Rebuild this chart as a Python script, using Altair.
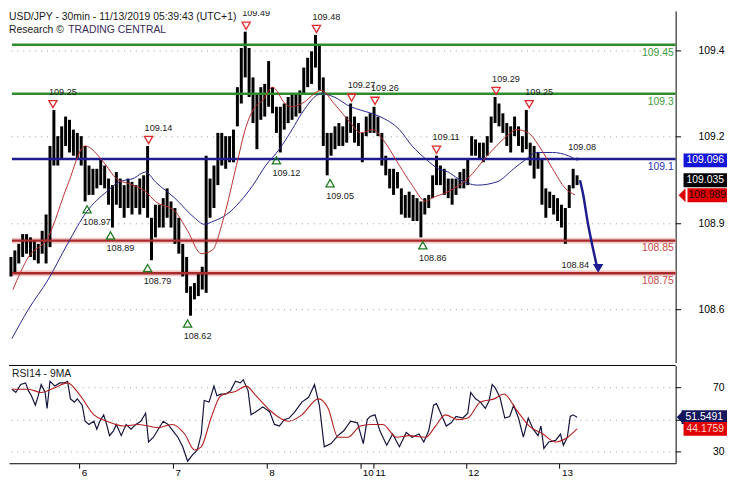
import json
import altair as alt
import pandas as pd

# ---------------- data ----------------
# hourly high / low of USD/JPY (hour index from 5 Nov 06:00, UTC+1)
bar_high = [108.80, 108.82, 108.84, 108.87, 108.87, 108.86, 108.85, 108.84, 108.88, 108.93,
            109.14, 109.25, 109.17, 109.20, 109.23, 109.22, 109.19, 109.18, 109.17, 109.14,
            109.08, 109.07, 109.07, 109.10, 109.08, 109.04, 109.02, 109.06, 109.04, 109.02,
            109.04, 109.03, 109.02, 109.04, 109.05, 109.14, 108.92, 108.96, 108.96, 108.98,
            109.01, 108.97, 108.95, 108.92, 108.84, 108.80, 108.71, 108.72, 108.75, 108.77,
            109.11, 109.04, 109.08, 109.18, 109.18, 109.17, 109.17, 109.19, 109.32, 109.44,
            109.49, 109.44, 109.35, 109.30, 109.32, 109.33, 109.40, 109.32, 109.26, 109.26,
            109.27, 109.29, 109.30, 109.30, 109.31, 109.38, 109.41, 109.43, 109.48, 109.45,
            109.35, 109.18, 109.18, 109.20, 109.21, 109.20, 109.23, 109.27, 109.23, 109.21,
            109.18, 109.23, 109.24, 109.26, 109.23, 109.18, 109.11, 109.07, 109.07, 109.06,
            109.01, 108.99, 109.00, 108.99, 108.98, 108.97, 108.98, 108.99, 109.05, 109.11,
            109.08, 109.07, 109.04, 109.04, 109.04, 109.06, 109.07, 109.10, 109.17, 109.16,
            109.15, 109.15, 109.17, 109.23, 109.29, 109.27, 109.24, 109.21, 109.20, 109.23,
            109.20, 109.17, 109.25, 109.15, 109.14, 109.12, 109.10, 109.01, 109.00, 108.99,
            108.98, 108.96, 108.95, 109.02, 109.07, 109.05]
bar_low = [108.74, 108.75, 108.78, 108.80, 108.81, 108.80, 108.79, 108.78, 108.81, 108.78,
           108.83, 109.08, 109.08, 109.10, 109.14, 109.12, 109.11, 109.10, 109.08, 108.97,
           108.99, 108.99, 109.01, 109.02, 109.01, 108.96, 108.89, 108.96, 108.95, 108.92,
           108.95, 108.93, 108.95, 108.93, 108.95, 108.92, 108.79, 108.86, 108.89, 108.89,
           108.92, 108.89, 108.84, 108.81, 108.74, 108.69, 108.62, 108.67, 108.68, 108.70,
           108.69, 108.92, 108.95, 109.02, 109.08, 109.07, 109.09, 109.09, 109.20, 109.27,
           109.35, 109.29, 109.21, 109.13, 109.22, 109.23, 109.26, 109.24, 109.18, 109.12,
           109.19, 109.21, 109.22, 109.23, 109.24, 109.30, 109.32, 109.33, 109.38, 109.31,
           109.14, 109.05, 109.11, 109.13, 109.14, 109.14, 109.15, 109.18, 109.15, 109.14,
           109.09, 109.17, 109.18, 109.18, 109.17, 109.08, 109.05, 109.01, 108.99, 109.01,
           108.93, 108.92, 108.92, 108.91, 108.91, 108.86, 108.93, 108.95, 108.98, 109.02,
           109.02, 108.99, 108.98, 108.96, 108.99, 109.01, 109.01, 109.02, 109.11, 109.11,
           109.10, 109.09, 109.11, 109.15, 109.21, 109.20, 109.18, 109.14, 109.12, 109.17,
           109.14, 109.12, 109.13, 109.08, 109.04, 109.07, 108.96, 108.92, 108.95, 108.93,
           108.91, 108.89, 108.84, 108.95, 109.01, 109.02]

red_ma_t = [1, 5, 10, 15, 19.5, 24.25, 27.5, 31.75, 35, 37.5,
            42.5, 45.75, 49.25, 52, 55, 58.25, 60.75, 62.5, 65, 67.5,
            70.75, 72.5, 75, 80, 83.25, 87.5, 90, 93.25, 95.75, 100,
            103.25, 106.75, 108.25, 112.5, 117.5, 122.5, 127.5, 130, 133, 135.75,
            139.25, 142.5, 145]
red_ma_v = [108.70, 108.80, 108.86, 109.02, 109.14, 109.09, 109.04, 109.02, 109.00, 108.97,
            108.94, 108.88, 108.81, 108.82, 108.92, 109.08, 109.20, 109.25, 109.28, 109.32,
            109.27, 109.26, 109.27, 109.31, 109.27, 109.21, 109.18, 109.19, 109.16, 109.08,
            109.02, 108.97, 108.98, 109.00, 109.04, 109.11, 109.17, 109.19, 109.18, 109.14,
            109.07, 109.01, 108.99]
blue_ma_t = [0.75, 5, 10, 15, 20, 25, 28.25, 31.75, 35, 37.5,
             42.5, 47.5, 50, 52.5, 55.75, 59.25, 62.5, 65.75, 69.25, 72.5,
             75, 80, 83.25, 87.5, 90, 95, 100, 103.25, 106.75, 110,
             112.5, 115, 120, 125, 129.25, 132.5, 135, 139.25, 143.25, 145]
blue_ma_v = [108.55, 108.64, 108.73, 108.84, 108.94, 109.00, 109.03, 109.04, 109.06, 109.03,
             108.98, 108.92, 108.90, 108.91, 108.93, 108.97, 109.02, 109.08, 109.13, 109.19,
             109.24, 109.30, 109.29, 109.26, 109.25, 109.23, 109.19, 109.14, 109.10, 109.07,
             109.06, 109.04, 109.02, 109.03, 109.07, 109.10, 109.12, 109.12, 109.11, 109.10]

level_price = [109.45, 109.30, 109.10, 108.85, 108.75]
level_label = ["109.45", "109.3", "109.1", "108.85", "108.75"]
level_kind = ["res", "res", "pivot", "sup", "sup"]

res_t = [11.25, 35.75, 60.75, 78.75, 87.75, 93.75, 109.5, 124.75, 133.25]
res_price = [109.25, 109.14, 109.49, 109.48, 109.27, 109.26, 109.11, 109.29, 109.25]
res_label = ["109.25", "109.14", "109.49", "109.48", "109.27", "109.26", "109.11", "109.29", "109.25"]
sup_t = [20, 26, 35.5, 45.75, 68.5, 82.25, 106]
sup_price = [108.97, 108.89, 108.79, 108.62, 109.12, 109.05, 108.86]
sup_label = ["108.97", "108.89", "108.79", "108.62", "109.12", "109.05", "108.86"]

fc_t = [146.25, 147, 148.25, 149.5, 150.5]
fc_price = [109.035, 108.995, 108.905, 108.83, 108.775]
fc_head_t = [150.9]
fc_head_price = [108.765]
fc_hi_t = [144.25]
fc_hi_price = [109.08]
fc_hi_label = ["109.08"]
fc_lo_t = [142.5]
fc_lo_price = [108.84]
fc_lo_label = ["108.84"]
dot_t = [145.5]
dot_price = [109.10]

box_price = [109.096, 109.035, 108.989]
box_label = ["109.096", "109.035", "108.989"]

rsi_t = [0.75, 1.75, 3, 4.25, 5, 5.75, 6.75, 7.5, 8.25, 9.25,
         9.75, 10.5, 11.75, 13, 14.25, 15, 15.75, 16.75, 17.5, 18.75,
         19.5, 20.5, 21.75, 22.5, 23.25, 24.25, 25, 25.75, 26.75, 27.5,
         28.75, 30, 31.25, 32.5, 33.75, 35, 35.75, 37, 38.25, 39.5,
         40.75, 42, 43.25, 44.5, 45.75, 47, 48.25, 49.25, 50, 51.25,
         52.5, 53.25, 54.25, 55.5, 56.75, 58, 59.25, 60, 61.25, 62,
         63.25, 65, 66.75, 68, 69.25, 70.5, 71.75, 73.25, 75, 76.75,
         78.25, 79.5, 80.75, 82.5, 84.25, 85.75, 87.5, 89.25, 90.75, 91.75,
         92.5, 93.75, 95, 96.75, 98.25, 100, 101.75, 103.25, 105, 106.25,
         107.5, 108.75, 109.5, 110.75, 112, 113.25, 114.5, 116.25, 117.5, 118.25,
         119.5, 120.75, 122, 123, 123.75, 124.5, 125.75, 127, 128.25, 129.25,
         130.5, 131.75, 133, 134.25, 135.5, 136.25, 137, 138.25, 140, 141.25,
         142, 143, 143.75, 144.5, 145.5]
rsi_v = [69, 67, 72, 73, 68, 65, 59, 65, 72, 67,
         57, 74, 71, 73, 73, 74, 63, 61, 63, 59,
         49, 47, 49, 44, 49, 53, 47, 40, 43, 47,
         40, 47, 44, 47, 49, 54, 36, 39, 44, 49,
         47, 43, 39, 33, 24, 28, 31, 41, 62, 61,
         71, 65, 66, 66, 68, 74, 73, 75, 68, 53,
         55, 58, 55, 47, 46, 50, 51, 55, 61, 64,
         72, 59, 33, 35, 40, 43, 49, 48, 35, 50,
         52, 53, 43, 34, 41, 33, 42, 39, 41, 36,
         43, 59, 60, 53, 46, 48, 52, 51, 54, 67,
         63, 61, 57, 62, 72, 70, 64, 51, 52, 59,
         51, 39, 51, 44, 40, 46, 32, 36, 37, 41,
         34, 39, 52, 53, 51.5]
rsi_ma_t = [0.75, 5, 8.25, 11.75, 15, 18.25, 21.75, 25, 29.25, 33.25,
            38.25, 41.75, 45, 47.5, 49.25, 51.75, 54.25, 58.25, 60.75, 63.25,
            66.75, 71.75, 75, 79.25, 81.75, 84.25, 86.75, 90, 92.5, 95.75,
            99.25, 102.5, 106.75, 109.25, 111.75, 115, 117.5, 120.75, 124.25, 126.75,
            130, 133.25, 136.75, 140, 142.5, 145.5]
rsi_ma_v = [69, 69, 67, 70, 73, 65, 53, 49, 46, 47,
            45, 47, 41, 31, 33, 51, 65, 68, 71, 65,
            56, 49, 53, 63, 57, 39, 39, 46, 47, 47,
            39, 40, 39, 46, 53, 50, 51, 61, 63, 66,
            56, 46, 41, 36, 38, 44.2]
rsi_box_value = [51.5491, 44.1759]
rsi_box_label = ["51.5491", "44.1759"]

price_ticks = [109.432, 109.169, 108.903, 108.639]
rsi_ticks = [70, 50, 30]
day_ticks = [18, 42, 66, 90, 93.25, 117, 141]
day_labels = ["6", "7", "8", "10", "11", "12", "13"]
title_line = "USD/JPY - 30min - 11/13/2019 05:39:43 (UTC+1)"
sub_a = "Research \u00a9"
sub_b = "TRADING CENTRAL"
rsi_title = "RSI14 - 9MA"

# ---------------- chart ----------------
W, H1, H2 = 675, 356, 99
FONT = "Liberation Sans"
xs = alt.Scale(domain=[0, 170.75], nice=False, zero=False)
ys = alt.Scale(domain=[108.4766, 109.5536], nice=False, zero=False)
rs = alt.Scale(domain=[22.7, 83.9], nice=False, zero=False)

main_axis = alt.Axis(orient="right", values=price_ticks, format=".1f", title=None,
                     grid=True, gridDash=[1, 5], gridColor="#9a9a9a", gridWidth=1,
                     tickSize=5, tickColor="black", domainColor="black", domainWidth=1,
                     labelAlign="right", labelBaseline="middle", labelPadding=44,
                     labelFont=FONT, labelFontSize=10.5, labelColor="black")
label_expr = "%s[indexof(%s, datum.value)]" % (json.dumps(day_labels), json.dumps(day_ticks))
x_axis = alt.Axis(orient="bottom", values=day_ticks, labelExpr=label_expr, title=None, grid=False,
                  tickSize=5, tickColor="black", domainColor="black", domainWidth=1,
                  labelAlign="left", labelBaseline="top", labelOffset=2, labelPadding=-1,
                  labelOverlap=False, labelFont=FONT, labelFontSize=10, labelColor="black")
rsi_axis = alt.Axis(orient="right", values=rsi_ticks, title=None,
                    labelExpr="datum.value == 50 ? '' : datum.label",
                    grid=True, gridDash=[1, 5], gridColor="#9a9a9a", gridWidth=1,
                    tickSize=5, tickColor="black", domainColor="black", domainWidth=1,
                    labelAlign="right", labelBaseline="middle", labelPadding=44,
                    labelFont=FONT, labelFontSize=10.5, labelColor="black")


def X(f):
    return alt.X(f, type="quantitative", scale=xs, axis=None)


def XR(f):
    return alt.X(f, type="quantitative", scale=xs, axis=x_axis)


def Y(f):
    return alt.Y(f, type="quantitative", scale=ys, axis=main_axis)


def R(f):
    return alt.Y(f, type="quantitative", scale=rs, axis=rsi_axis)


bars_df = pd.DataFrame({"t": [i + 0.5 for i in range(len(bar_high))],
                        "high": bar_high, "low": bar_low})
lvl_df = pd.DataFrame({"p": level_price, "lab": level_label, "kind": level_kind})
red_df = pd.DataFrame({"t": red_ma_t, "p": red_ma_v})
blue_df = pd.DataFrame({"t": blue_ma_t, "p": blue_ma_v})
res_df = pd.DataFrame({"t": res_t, "p": res_price, "lab": res_label})
sup_df = pd.DataFrame({"t": sup_t, "p": sup_price, "lab": sup_label})
fc_df = pd.DataFrame({"t": fc_t, "p": fc_price})
head_df = pd.DataFrame({"t": fc_head_t, "p": fc_head_price})
hi_df = pd.DataFrame({"t": fc_hi_t, "p": fc_hi_price, "lab": fc_hi_label})
lo_df = pd.DataFrame({"t": fc_lo_t, "p": fc_lo_price, "lab": fc_lo_label})
dot_df = pd.DataFrame({"t": dot_t, "p": dot_price})

layers = []
layers.append(alt.Chart(lvl_df).transform_filter(alt.datum.kind == "sup").mark_rule(
    color="#f1c8c8", strokeWidth=6).encode(y=Y("p"), x=alt.value(3), x2=alt.value(W)))

layers.append(alt.Chart(bars_df).mark_rule(color="black", strokeWidth=3).encode(
    x=X("t"), y=Y("low"), y2="high:Q"))

for kind, col, lcol in [("res", "#2e8b2e", "#3f9b3f"), ("pivot", "#1d1d8f", "#3030bb"),
                        ("sup", "#a82a2a", "#c54a4a")]:
    base = alt.Chart(lvl_df).transform_filter(alt.datum.kind == kind)
    layers.append(base.mark_rule(color=col, strokeWidth=2.5).encode(
        y=Y("p"), x=alt.value(3), x2=alt.value(W)))
    layers.append(base.mark_text(align="right", baseline="middle", dx=-2, dy=8, font=FONT,
                                 fontSize=10.5, color=lcol).encode(
        y=Y("p"), x=alt.value(W), text="lab:N"))

layers.append(alt.Chart(blue_df).mark_line(color="#26268c", strokeWidth=1,
                                           interpolate="monotone").encode(x=X("t"), y=Y("p")))
layers.append(alt.Chart(red_df).mark_line(color="#b83030", strokeWidth=1,
                                          interpolate="monotone").encode(x=X("t"), y=Y("p")))

layers.append(alt.Chart(res_df).mark_point(shape="triangle-down", filled=False, size=70,
                                           color="#dd2b2b", strokeWidth=1.3, opacity=1,
                                           yOffset=-6).encode(x=X("t"), y=Y("p")))
layers.append(alt.Chart(sup_df).mark_point(shape="triangle-up", filled=False, size=70,
                                           color="#1e7a1e", strokeWidth=1.3, opacity=1,
                                           yOffset=8).encode(x=X("t"), y=Y("p")))
for d, dy in [(res_df, -18.5), (hi_df, -18.5), (sup_df, 21), (lo_df, 21)]:
    layers.append(alt.Chart(d).mark_text(align="left", baseline="middle", dx=-4, dy=dy,
                                         font=FONT, fontSize=9.2, color="#202020",
                                         clip=True).encode(x=X("t"), y=Y("p"), text="lab:N"))

layers.append(alt.Chart(fc_df).mark_line(color="#1d1d8f", strokeWidth=2.5,
                                         interpolate="monotone").encode(x=X("t"), y=Y("p")))
layers.append(alt.Chart(head_df).mark_point(shape="triangle-down", filled=True, size=110,
                                            color="#1d1d8f", opacity=1).encode(x=X("t"), y=Y("p")))
layers.append(alt.Chart(dot_df).mark_point(shape="circle", filled=True, size=10,
                                           color="#1d1d8f", opacity=1).encode(x=X("t"), y=Y("p")))


def vbox(value, label, yenc_fn, bg, fg, cx, width, arrow_x=None):
    d = pd.DataFrame({"v": [value], "lab": [label]})
    out = [alt.Chart(d).mark_tick(orient="horizontal", size=width, thickness=14, color=bg,
                                  opacity=1).encode(x=alt.value(cx), y=yenc_fn("v"))]
    if arrow_x is not None:
        out.append(alt.Chart(d).mark_point(shape="M0,0L1,-1L1,1Z", filled=True, size=196,
                                           color=bg, opacity=1).encode(
            x=alt.value(arrow_x), y=yenc_fn("v")))
    out.append(alt.Chart(d).mark_text(font=FONT, fontSize=10.5, color=fg, align="center",
                                      baseline="middle").encode(
        x=alt.value(cx), y=yenc_fn("v"), text="lab:N"))
    return out


layers += vbox(box_price[0], box_label[0], Y, "#1414d8", "white", W + 30, 44)
layers += vbox(box_price[1], box_label[1], Y, "#000000", "white", W + 30, 44)
layers += vbox(box_price[2], box_label[2], Y, "#e00000", "#2a0000", W + 32, 40, arrow_x=W + 3)

layers.append(alt.Chart(pd.DataFrame({"s": [title_line]})).mark_text(
    align="left", baseline="middle", font=FONT, fontSize=10.5, color="#1a1a1a").encode(
    x=alt.value(0), y=alt.value(6), text="s:N"))
layers.append(alt.Chart(pd.DataFrame({"s": [sub_a]})).mark_text(
    align="left", baseline="middle", font=FONT, fontSize=10.5, color="#1a1a1a").encode(
    x=alt.value(0), y=alt.value(19), text="s:N"))
layers.append(alt.Chart(pd.DataFrame({"s": [sub_b]})).mark_text(
    align="left", baseline="middle", font=FONT, fontSize=10.5, color="#3a2c5a").encode(
    x=alt.value(60), y=alt.value(19), text="s:N"))

main = alt.layer(*layers).properties(width=W, height=H1)

# ---------------- RSI panel ----------------
rsi_df = pd.DataFrame({"t": rsi_t, "v": rsi_v})
rsi_ma_df = pd.DataFrame({"t": rsi_ma_t, "v": rsi_ma_v})
one = pd.DataFrame({"a": [0]})

rl = [
    alt.Chart(rsi_df).mark_line(color="#14143c", strokeWidth=1.2).encode(x=XR("t"), y=R("v")),
    alt.Chart(rsi_ma_df).mark_line(color="#b42020", strokeWidth=1.1,
                                   interpolate="monotone").encode(x=XR("t"), y=R("v")),
    alt.Chart(one).mark_rule(color="black", strokeWidth=1).encode(
        x=alt.value(0), x2=alt.value(W), y=alt.value(0)),
    alt.Chart(pd.DataFrame({"s": [rsi_title]})).mark_text(
        align="left", baseline="middle", font=FONT, fontSize=10.5, color="#1a1a1a").encode(
        x=alt.value(3), y=alt.value(9), text="s:N"),
]
rl += vbox(rsi_box_value[0], rsi_box_label[0], R, "#16165c", "white", W + 29, 46, arrow_x=W + 1)
rl += vbox(rsi_box_value[1], rsi_box_label[1], R, "#e00000", "#ffd6d6", W + 30, 44)

rsi = alt.layer(*rl).properties(width=W, height=H2)

chart = alt.vconcat(main, rsi, spacing=2, padding=0).configure_view(stroke=None)

chart.save("out.html", embed_options={"renderer": "svg", "actions": False})
